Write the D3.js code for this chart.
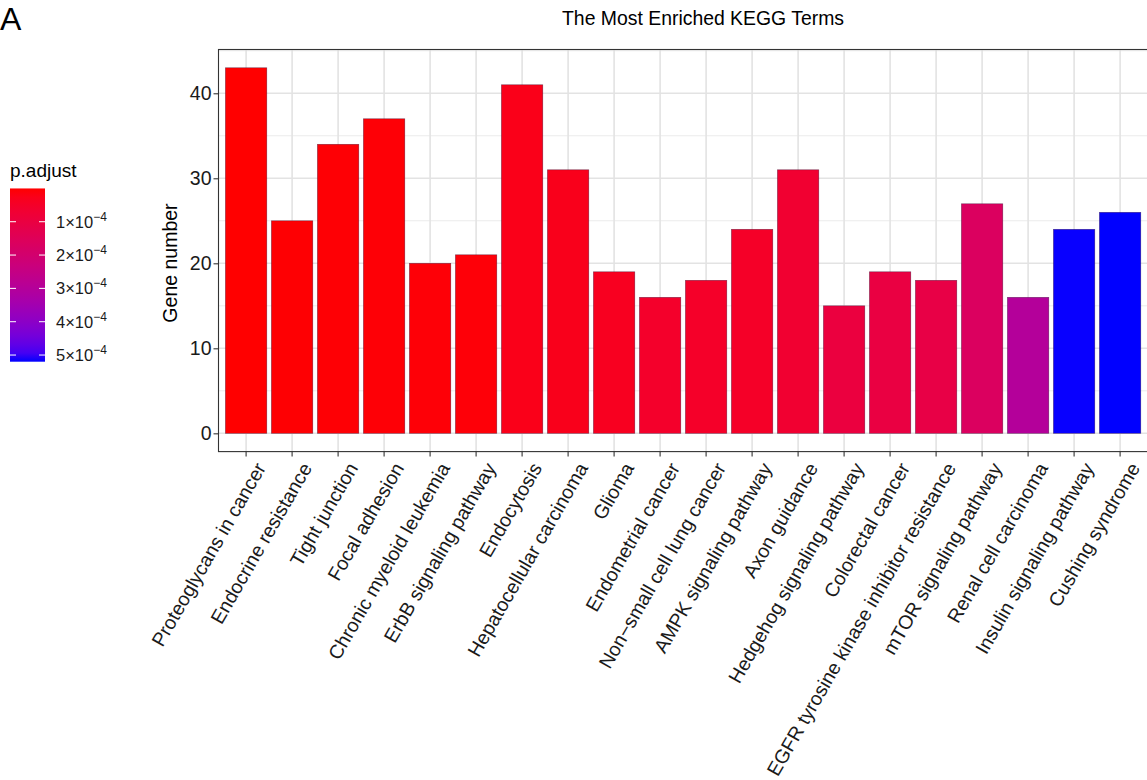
<!DOCTYPE html>
<html>
<head>
<meta charset="utf-8">
<script src="https://cdn.jsdelivr.net/npm/d3@7"></script>
<style>
  html, body { margin: 0; padding: 0; background: #fff; }
  svg { display: block; font-family: "Liberation Sans", Arial, Helvetica, sans-serif; }
</style>
</head>
<body>
<svg id="chart" width="1147" height="780"></svg>
<script>
// KEGG pathway terms, gene counts and adjusted p-values
const terms = [
  "Proteoglycans in cancer", "Endocrine resistance", "Tight junction", "Focal adhesion",
  "Chronic myeloid leukemia", "ErbB signaling pathway", "Endocytosis", "Hepatocellular carcinoma",
  "Glioma", "Endometrial cancer", "Non\u2212small cell lung cancer", "AMPK signaling pathway",
  "Axon guidance", "Hedgehog signaling pathway", "Colorectal cancer",
  "EGFR tyrosine kinase inhibitor resistance", "mTOR signaling pathway", "Renal cell carcinoma",
  "Insulin signaling pathway", "Cushing syndrome"
];
const geneCounts = [43, 25, 34, 37, 20, 21, 41, 31, 19, 16, 18, 24, 31, 15, 19, 18, 27, 16, 24, 26];
const pAdjust = [
  1.5e-7, 3e-6, 4e-6, 5e-6, 6e-6, 7e-6, 2.5e-5, 2.8e-5, 3.5e-5, 5.5e-5,
  5.0e-5, 4.8e-5, 6.5e-5, 9.5e-5, 1.0e-4, 1.1e-4, 1.65e-4, 3.0e-4, 5.19e-4, 5.2e-4
];
const yTicks = [0, 10, 20, 30, 40];
const yMinorTicks = [5, 15, 25, 35, 45];
const legendTicks = [1e-4, 2e-4, 3e-4, 4e-4, 5e-4];
const legendMantissa = ["1", "2", "3", "4", "5"];

const svg = d3.select("#chart");
const FONT = "Liberation Sans, Arial, sans-serif";

// panel geometry
const panel = { left: 218.5, right: 1147.7, top: 49.5, bottom: 451.6 };
const yMax = d3.max(geneCounts);
const x = d3.scaleBand().domain(terms)
  .range([panel.left, panel.right]).paddingInner(0.1).paddingOuter(0.15);
const y = d3.scaleLinear().domain([-0.05 * yMax, yMax * 1.05]).range([panel.bottom, panel.top]);

const pExtent = d3.extent(pAdjust);
const color = d3.scaleLinear().domain(pExtent).range(["red", "blue"]).interpolate(d3.interpolateLab);

// panel background
svg.append("rect").attr("x", panel.left).attr("y", panel.top)
  .attr("width", panel.right - panel.left).attr("height", panel.bottom - panel.top)
  .attr("fill", "#fff");

const grid = svg.append("g");
grid.selectAll(".minor").data(yMinorTicks.filter(t => y(t) > panel.top)).join("line")
  .attr("x1", panel.left).attr("x2", panel.right)
  .attr("y1", d => y(d)).attr("y2", d => y(d))
  .attr("stroke", "#EBEBEB").attr("stroke-width", 1);
grid.selectAll(".major").data(yTicks).join("line")
  .attr("x1", panel.left).attr("x2", panel.right)
  .attr("y1", d => y(d)).attr("y2", d => y(d))
  .attr("stroke", "#E3E3E3").attr("stroke-width", 1.6);
grid.selectAll(".vmajor").data(terms).join("line")
  .attr("x1", d => x(d) + x.bandwidth() / 2).attr("x2", d => x(d) + x.bandwidth() / 2)
  .attr("y1", panel.top).attr("y2", panel.bottom)
  .attr("stroke", "#E3E3E3").attr("stroke-width", 1.6);

// bars
svg.append("g").selectAll("rect").data(terms).join("rect")
  .attr("x", d => x(d))
  .attr("width", x.bandwidth())
  .attr("y", (d, i) => y(geneCounts[i]))
  .attr("height", (d, i) => y(0) - y(geneCounts[i]))
  .attr("fill", (d, i) => color(pAdjust[i]))
  .attr("stroke", "rgba(40,0,40,0.55)").attr("stroke-width", 0.6);

// panel border
svg.append("rect").attr("x", panel.left).attr("y", panel.top)
  .attr("width", panel.right - panel.left).attr("height", panel.bottom - panel.top)
  .attr("fill", "none").attr("stroke", "#333").attr("stroke-width", 1.1);

// y axis
const yAxis = svg.append("g").attr("transform", `translate(${panel.left},0)`)
  .call(d3.axisLeft(y).tickValues(yTicks).tickSize(5).tickPadding(2));
yAxis.select(".domain").remove();
yAxis.selectAll(".tick line").attr("stroke", "#333").attr("stroke-width", 1.1);
yAxis.selectAll(".tick text").attr("font-size", 19.5).attr("fill", "#1a1a1a")
  .attr("font-family", FONT);

// x axis
const xAxis = svg.append("g").attr("transform", `translate(0,${panel.bottom})`)
  .call(d3.axisBottom(x).tickSize(5).tickSizeOuter(0).tickPadding(0));
xAxis.select(".domain").remove();
xAxis.selectAll(".tick line").attr("stroke", "#333").attr("stroke-width", 1.1);
xAxis.selectAll(".tick text")
  .attr("font-size", 19.5).attr("fill", "#1a1a1a")
  .attr("font-family", FONT)
  .attr("text-anchor", "end")
  .attr("dy", null).attr("y", 0)
  .attr("transform", "translate(8,9) rotate(-60)")
  .attr("dominant-baseline", "hanging");

// axis title
svg.append("text")
  .attr("transform", "translate(177,263) rotate(-90)")
  .attr("text-anchor", "middle").attr("font-size", 19.5).attr("fill", "#000")
  .text("Gene number");

// chart title
svg.append("text").attr("x", 703).attr("y", 25)
  .attr("text-anchor", "middle").attr("font-size", 19.4).attr("fill", "#000")
  .text("The Most Enriched KEGG Terms");

// panel tag
svg.append("text").attr("x", 0).attr("y", 30)
  .attr("font-size", 32).attr("fill", "#000").text("A");

// colour bar legend
const lg = { x: 10, w: 35, top: 188.4, bottom: 361.7 };
const legendScale = d3.scaleLinear().domain([0, 5.2e-4]).range([lg.top, lg.bottom]);
const defs = svg.append("defs");
const grad = defs.append("linearGradient").attr("id", "padj")
  .attr("x1", 0).attr("y1", 0).attr("x2", 0).attr("y2", 1);
d3.range(0, 1.0001, 0.05).forEach(t => {
  grad.append("stop").attr("offset", t)
    .attr("stop-color", color(pExtent[0] + t * (pExtent[1] - pExtent[0])));
});
svg.append("rect").attr("x", lg.x).attr("y", legendScale(pExtent[0]))
  .attr("width", lg.w).attr("height", legendScale(pExtent[1]) - legendScale(pExtent[0]))
  .attr("fill", "url(#padj)");
const lt = svg.append("g");
legendTicks.forEach((v, i) => {
  const yy = legendScale(v);
  lt.append("line").attr("x1", lg.x).attr("x2", lg.x + 6).attr("y1", yy).attr("y2", yy)
    .attr("stroke", "#fff").attr("stroke-width", 1);
  lt.append("line").attr("x1", lg.x + lg.w - 6).attr("x2", lg.x + lg.w).attr("y1", yy).attr("y2", yy)
    .attr("stroke", "#fff").attr("stroke-width", 1);
  const t = lt.append("text").attr("x", 56).attr("y", yy + 6)
    .attr("font-size", 16.5).attr("fill", "#1a1a1a");
  t.append("tspan").text(legendMantissa[i] + "\u00d710");
  t.append("tspan").attr("dy", -7).attr("font-size", 12).text("\u22124");
});
svg.append("text").attr("x", 10).attr("y", 177)
  .attr("font-size", 19).attr("fill", "#000").text("p.adjust");
</script>
</body>
</html>
